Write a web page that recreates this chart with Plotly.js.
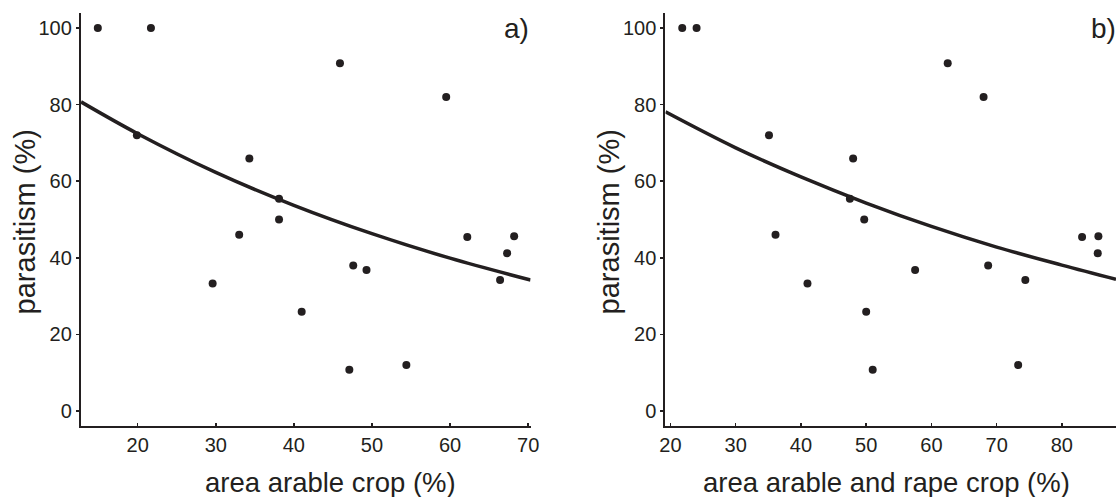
<!DOCTYPE html>
<html>
<head>
<meta charset="utf-8">
<script src="https://cdn.plot.ly/plotly-3.0.1.min.js"></script>
<style>html,body{margin:0;padding:0;background:#fff}#chart{width:1116px;height:497px}</style>
</head>
<body>
<div id="chart"></div>
<script>
// Parasitism (%) per site
const parasitism = [100, 100, 90.8, 82.0, 72.0, 65.9, 55.4, 50.0, 46.0, 45.4, 45.6, 41.2, 34.2, 38.0, 36.8, 33.3, 25.9, 10.8, 12.0];
// Panel a: area arable crop (%)
const areaArable = [14.9, 21.7, 45.9, 59.5, 19.9, 34.3, 38.1, 38.1, 33.0, 62.2, 68.2, 67.3, 66.4, 47.6, 49.3, 29.6, 41.0, 47.1, 54.4];
// Panel b: area arable and rape crop (%)
const areaArableRape = [21.8, 24.0, 62.5, 68.0, 35.1, 48.0, 47.5, 49.7, 36.1, 83.1, 85.6, 85.5, 74.4, 68.7, 57.5, 41.0, 50.0, 51.0, 73.3];
// Fitted curves
const fitAx = [12.75, 20, 30, 40, 50, 60, 70.3];
const fitAy = [80.7, 72.4, 62.3, 53.7, 46.3, 39.9, 34.2];
const fitBx = [19.23, 30, 40, 50, 60, 70, 80, 88.3];
const fitBy = [78.1, 68.7, 61.1, 54.3, 48.2, 42.8, 38.1, 34.4];
const xTicksA = [20, 30, 40, 50, 60, 70];
const xTicksB = [20, 30, 40, 50, 60, 70, 80];
const yTicks = [0, 20, 40, 60, 80, 100];

const ink = '#231f20';
const font = 'Liberation Sans, Arial, sans-serif';

const traces = [
  {x: areaArable, y: parasitism, type: 'scatter', mode: 'markers', xaxis: 'x', yaxis: 'y',
   marker: {size: 8, color: ink}, cliponaxis: false},
  {x: fitAx, y: fitAy, type: 'scatter', mode: 'lines', xaxis: 'x', yaxis: 'y',
   line: {color: ink, width: 3.5, shape: 'spline'}},
  {x: areaArableRape, y: parasitism, type: 'scatter', mode: 'markers', xaxis: 'x2', yaxis: 'y2',
   marker: {size: 8, color: ink}, cliponaxis: false},
  {x: fitBx, y: fitBy, type: 'scatter', mode: 'lines', xaxis: 'x2', yaxis: 'y2',
   line: {color: ink, width: 3.5, shape: 'spline'}}
];

const xBase = {
  showline: true, linecolor: ink, linewidth: 2.2, showgrid: false, zeroline: false,
  ticks: 'inside', ticklen: 3.5, tickwidth: 1.5, tickcolor: ink,
  tickfont: {family: font, size: 20, color: ink}, tickmode: 'array'
};
const yBase = {
  showline: true, linecolor: ink, linewidth: 2.2, showgrid: false, zeroline: false,
  ticks: 'outside', ticklen: 3, tickwidth: 1.5, tickcolor: ink,
  tickfont: {family: font, size: 20, color: ink}, tickmode: 'array',
  tickvals: yTicks, ticktext: yTicks.map(String), range: [-3.9, 103.9], domain: [0, 1]
};

const layout = {
  width: 1116, height: 497,
  margin: {l: 0, r: 0, t: 13, b: 71},
  paper_bgcolor: '#fff', plot_bgcolor: '#fff',
  showlegend: false,
  xaxis: Object.assign({}, xBase, {domain: [0.0726, 0.4754], range: [12.75, 70.3], anchor: 'y',
    tickvals: xTicksA, ticktext: xTicksA.map(String)}),
  yaxis: Object.assign({}, yBase, {anchor: 'x'}),
  xaxis2: Object.assign({}, xBase, {domain: [0.5963, 1], range: [19.23, 88.3], anchor: 'y2',
    tickvals: xTicksB, ticktext: xTicksB.map(String)}),
  yaxis2: Object.assign({}, yBase, {anchor: 'x2'}),
  annotations: [
    {text: 'area arable crop (%)', xref: 'paper', yref: 'paper', x: 330/1116, y: -0.137,
     xanchor: 'center', yanchor: 'middle', showarrow: false, font: {family: font, size: 27.5, color: ink}},
    {text: 'area arable and rape crop (%)', xref: 'paper', yref: 'paper', x: 886/1116, y: -0.137,
     xanchor: 'center', yanchor: 'middle', showarrow: false, font: {family: font, size: 27.5, color: ink}},
    {text: 'parasitism (%)', xref: 'paper', yref: 'paper', x: 25/1116, y: 0.493, textangle: -90,
     xanchor: 'center', yanchor: 'middle', showarrow: false, font: {family: font, size: 29, color: ink}},
    {text: 'parasitism (%)', xref: 'paper', yref: 'paper', x: 609/1116, y: 0.493, textangle: -90,
     xanchor: 'center', yanchor: 'middle', showarrow: false, font: {family: font, size: 29, color: ink}},
    {text: 'a)', xref: 'paper', yref: 'paper', x: 516.5/1116, y: 0.963,
     xanchor: 'center', yanchor: 'middle', showarrow: false, font: {family: font, size: 28, color: ink}},
    {text: 'b)', xref: 'paper', yref: 'paper', x: 1103/1116, y: 0.963,
     xanchor: 'center', yanchor: 'middle', showarrow: false, font: {family: font, size: 28, color: ink}}
  ]
};

Plotly.newPlot('chart', traces, layout, {displayModeBar: false, staticPlot: true});
</script>
</body>
</html>
